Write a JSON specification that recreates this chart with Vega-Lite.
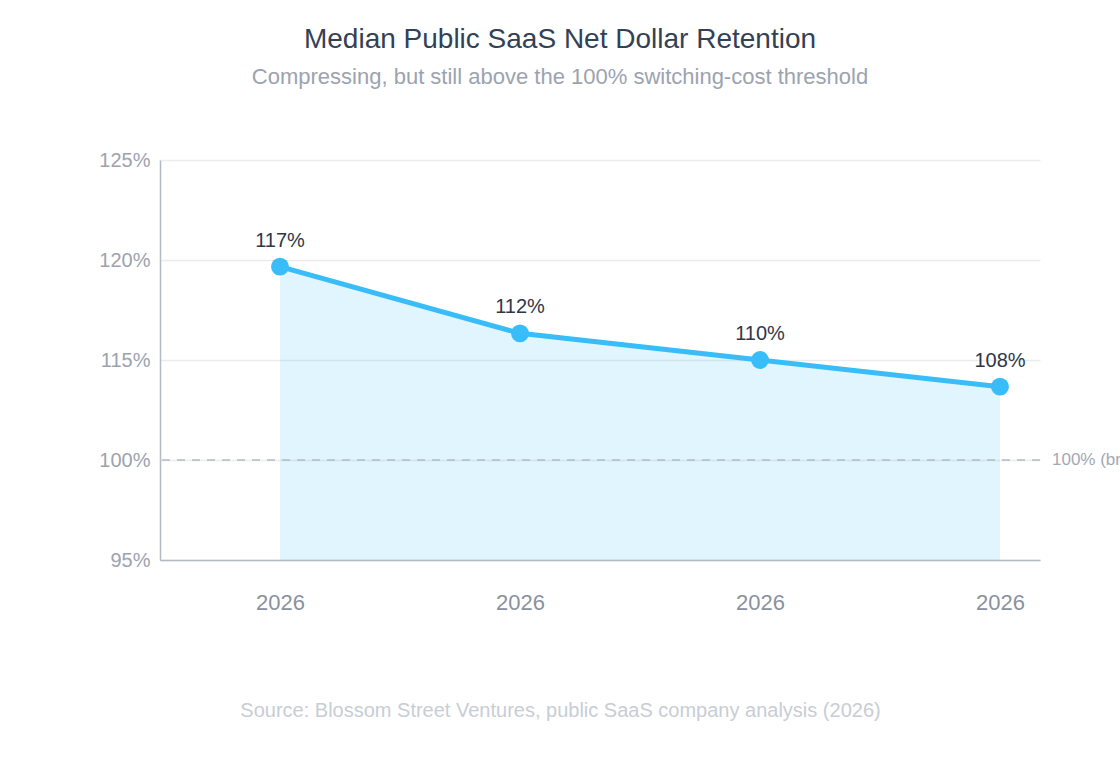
{
  "$schema": "https://vega.github.io/schema/vega-lite/v6.json",
  "autosize": "none",
  "width": 880,
  "height": 400,
  "padding": {"left": 160, "top": 160, "right": 80, "bottom": 200},
  "background": "white",
  "config": {
    "font": "Liberation Sans",
    "view": {"stroke": null}
  },
  "title": {
    "text": "Median Public SaaS Net Dollar Retention",
    "subtitle": "Compressing, but still above the 100% switching-cost threshold",
    "anchor": "middle",
    "dx": -40,
    "offset": 62,
    "fontSize": 28,
    "fontWeight": "normal",
    "color": "#334155",
    "subtitleFontSize": 22,
    "subtitleColor": "#9ca3af",
    "subtitlePadding": 13
  },
  "data": {
    "values": [
      {"quarter": 1, "year": 2026, "ndr": 1.17},
      {"quarter": 2, "year": 2026, "ndr": 1.12},
      {"quarter": 3, "year": 2026, "ndr": 1.10},
      {"quarter": 4, "year": 2026, "ndr": 1.08}
    ]
  },
  "encoding": {
    "x": {
      "field": "quarter",
      "type": "quantitative",
      "scale": {"domain": [0.5, 4.1667], "nice": false, "zero": false},
      "axis": {
        "values": [1, 2, 3, 4],
        "labelExpr": "'2026'",
        "grid": false,
        "ticks": false,
        "domainColor": "#b4b9c2",
        "domainWidth": 1.5,
        "labelFontSize": 22,
        "labelColor": "#8a919e",
        "labelPadding": 32,
        "title": "Source: Blossom Street Ventures, public SaaS company analysis (2026)",
        "titleFontSize": 20,
        "titleFontWeight": "normal",
        "titleColor": "#c8cdd5",
        "titleX": 400,
        "titleY": 150,
        "titleAlign": "center",
        "titleBaseline": "middle"
      }
    },
    "y": {
      "field": "ndr",
      "type": "quantitative",
      "scale": {"domain": [0.95, 1.25], "nice": false, "zero": false},
      "axis": {
        "values": [0.95, 1.025, 1.1, 1.175, 1.25],
        "labelExpr": "datum.value < 0.96 ? '95%' : datum.value < 1.05 ? '100%' : datum.value < 1.15 ? '115%' : datum.value < 1.2 ? '120%' : '125%'",
        "title": null,
        "ticks": false,
        "gridColor": "#ececec",
        "gridWidth": 1.5,
        "domainColor": "#b4b9c2",
        "domainWidth": 1.5,
        "labelFontSize": 20,
        "labelColor": "#9ca3af",
        "labelPadding": 10
      }
    }
  },
  "layer": [
    {
      "mark": {"type": "area", "color": "#38bdf8", "fillOpacity": 0.15},
      "encoding": {"y2": {"datum": 0.95}}
    },
    {
      "data": {"values": [{"threshold": 1.025, "label": "100% (breakeven)"}]},
      "mark": {"type": "rule", "color": "#b4bac4", "strokeWidth": 1.5, "strokeDash": [8, 7]},
      "encoding": {
        "x": null,
        "y": {"field": "threshold", "type": "quantitative"}
      }
    },
    {
      "data": {"values": [{"threshold": 1.025, "label": "100% (breakeven)"}]},
      "mark": {"type": "text", "align": "left", "baseline": "middle", "dx": 12, "fontSize": 17, "color": "#a3a9b4"},
      "encoding": {
        "x": {"value": "width"},
        "y": {"field": "threshold", "type": "quantitative"},
        "text": {"field": "label"}
      }
    },
    {
      "mark": {"type": "line", "color": "#38bdf8", "strokeWidth": 5}
    },
    {
      "mark": {"type": "point", "filled": true, "opacity": 1, "size": 320, "color": "#38bdf8"}
    },
    {
      "mark": {"type": "text", "baseline": "middle", "dy": -26, "fontSize": 20, "color": "#2d3748"},
      "encoding": {"text": {"field": "ndr", "type": "quantitative", "format": ".0%"}}
    }
  ]
}
